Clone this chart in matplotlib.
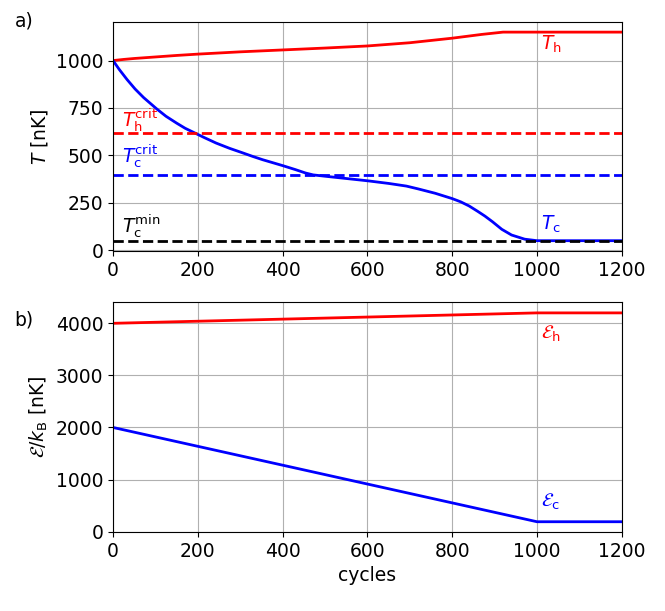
import numpy as np
import matplotlib
matplotlib.use("Agg")
import matplotlib.pyplot as plt

# Panel a) temperatures
cycles_Th = [0, 25, 50, 100, 150, 200, 300, 400, 500, 600, 700, 800, 870, 920, 1000, 1200]
T_h = [1000, 1006, 1011, 1019, 1027, 1034, 1046, 1056, 1066, 1077, 1094, 1118, 1138, 1150, 1150, 1150]

cycles_Tc = [0, 15, 33, 52, 72, 103, 125, 150, 170, 193, 215, 243, 275, 306, 330, 353,
             400, 430, 454, 472, 500, 550, 600, 650, 692, 720, 760, 800, 820, 840, 860,
             877, 895, 917, 940, 971, 1000, 1200]
T_c = [1000, 952, 900, 850, 805, 745, 706, 670, 643, 618, 594, 565, 537, 513, 494, 477,
       446, 425, 407, 397, 390, 378, 366, 352, 338, 323, 300, 272, 255, 233, 205,
       180, 150, 110, 80, 58, 50, 50]

T_h_crit = 620
T_c_crit = 396
T_c_min = 50

# Panel b) energies
cycles_E = [0, 1000, 1200]
E_h = [4000, 4200, 4200]
E_c = [2000, 190, 190]

plt.rcParams['font.size'] = 13.5
fig = plt.figure(figsize=(6.65, 6.11), dpi=100)
ax1 = fig.add_axes([0.170, 0.589, 0.765, 0.3755])
ax2 = fig.add_axes([0.170, 0.129, 0.765, 0.376])

lw = 2.0
ax1.plot(cycles_Th, T_h, color='red', lw=lw)
ax1.plot(cycles_Tc, T_c, color='blue', lw=lw)
ax1.axhline(T_h_crit, color='red', ls='--', lw=lw)
ax1.axhline(T_c_crit, color='blue', ls='--', lw=lw)
ax1.axhline(T_c_min, color='black', ls='--', lw=lw)
ax1.set_xlim(0, 1200)
ax1.set_ylabel(r'$T$ [nK]')
ax1.grid(True, color='#b0b0b0')
ax1.set_axisbelow(True)
ax1.text(1010, 1083, r'$T_\mathrm{h}$', color='red', ha='left', va='center')
ax1.text(1010, 137, r'$T_\mathrm{c}$', color='blue', ha='left', va='center')
ax1.text(20, 687, r'$T_\mathrm{h}^\mathrm{crit}$', color='red', ha='left', va='center')
ax1.text(20, 494, r'$T_\mathrm{c}^\mathrm{crit}$', color='blue', ha='left', va='center')
ax1.text(20, 128, r'$T_\mathrm{c}^\mathrm{min}$', color='black', ha='left', va='center')

ax2.plot(cycles_E, E_h, color='red', lw=lw)
ax2.plot(cycles_E, E_c, color='blue', lw=lw)
ax2.set_xlim(0, 1200)
ax2.set_xlabel('cycles')
ax2.set_ylabel(r'$\mathcal{E}/k_\mathrm{B}$ [nK]')
ax2.grid(True, color='#b0b0b0')
ax2.set_axisbelow(True)
ax2.text(1010, 3790, r'$\mathcal{E}_\mathrm{h}$', color='red', ha='left', va='center')
ax2.text(1010, 580, r'$\mathcal{E}_\mathrm{c}$', color='blue', ha='left', va='center')

fig.text(0.022, 0.965, 'a)', ha='left', va='center')
fig.text(0.022, 0.477, 'b)', ha='left', va='center')

fig.savefig('out.png', dpi=100)
